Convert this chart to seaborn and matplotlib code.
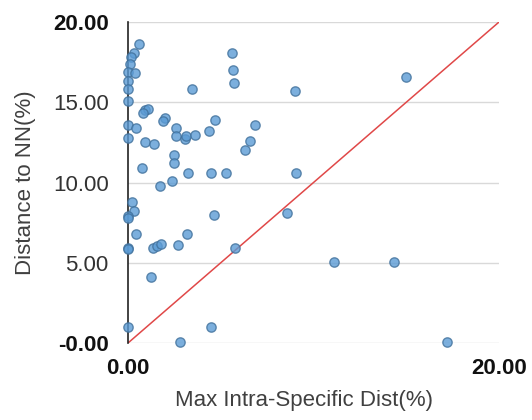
import numpy as np
import pandas as pd
import matplotlib
import matplotlib.pyplot as plt
import seaborn as sns

matplotlib.use('Agg')

# values
max_intra = [0.6, 0.3, 0.15, 0.1, 0.0, 0.4, 0.0, 0.0, 0.0, 3.45,
             5.6, 5.65, 5.7, 0.9, 1.1, 0.8, 2.0, 1.9, 0.0, 0.45,
             0.0, 0.9, 1.4, 2.6, 2.6, 3.05, 3.15, 3.6, 2.5, 2.5,
             0.75, 3.25, 2.35, 1.7, 4.7, 4.35, 6.85, 6.6, 6.3, 4.45,
             5.3, 15.0, 9.0, 9.05, 8.55, 11.1, 14.35, 17.2, 0.2, 0.3,
             0.0, 0.0, 0.45, 0.0, 0.0, 1.35, 1.55, 1.8, 2.7, 3.2,
             4.65, 5.75, 1.25, 0.0, 4.5, 2.8]
dist_nn = [18.6, 18.1, 17.8, 17.4, 16.9, 16.8, 16.3, 15.8, 15.1, 15.8,
           18.05, 17.0, 16.2, 14.5, 14.6, 14.3, 14.0, 13.85, 13.6, 13.4,
           12.75, 12.5, 12.4, 13.4, 12.9, 12.7, 12.9, 12.95, 11.7, 11.2,
           10.9, 10.6, 10.1, 9.8, 13.9, 13.2, 13.6, 12.6, 12.0, 10.6,
           10.6, 16.6, 15.7, 10.6, 8.1, 5.03, 5.03, 0.04, 8.8, 8.2,
           7.9, 7.8, 6.8, 5.9, 5.85, 5.95, 6.05, 6.2, 6.1, 6.8,
           8.0, 5.95, 4.1, 1.0, 1.0, 0.04]
diag = [0, 20]
x_ticks = [0, 20]
x_ticklabels = ['0.00', '20.00']
y_ticks = [0, 5, 10, 15, 20]
y_ticklabels = ['-0.00', '5.00', '10.00', '15.00', '20.00']

df = pd.DataFrame({'max_intra': max_intra, 'dist_nn': dist_nn})

sns.set_style('white')
plt.rcParams['font.family'] = ['Liberation Sans', 'DejaVu Sans']

fig = plt.figure(figsize=(5.32, 4.2), dpi=100)
ax = fig.add_axes([0.2406, 0.1833, 0.6974, 0.7643])

ax.grid(True, axis='y', color='#d9d9d9', linewidth=1)
ax.set_axisbelow(True)

sns.lineplot(x=diag, y=diag, ax=ax, color='#e04848', linewidth=1.1, zorder=2)
sns.scatterplot(data=df, x='max_intra', y='dist_nn', ax=ax, s=45,
                color='#5b9bd5', alpha=0.8, edgecolor='#41719c',
                linewidth=1, zorder=3, clip_on=False)

ax.set_xlim(0, 20)
ax.set_ylim(0, 20)
ax.set_xticks(x_ticks)
ax.set_xticklabels(x_ticklabels)
ax.set_yticks(y_ticks)
ax.set_yticklabels(y_ticklabels)
ax.tick_params(axis='both', length=0, labelsize=16, colors='#333333')
ax.tick_params(axis='y', pad=14)
ax.tick_params(axis='x', pad=11)
# only the end labels are bold in the original
for lab in ax.get_xticklabels():
    lab.set_fontweight('bold')
    lab.set_color('#111111')
ylabs = ax.get_yticklabels()
for lab in (ylabs[0], ylabs[-1]):
    lab.set_fontweight('bold')
    lab.set_color('#111111')

for side in ['top', 'right', 'bottom']:
    ax.spines[side].set_visible(False)
ax.spines['left'].set_color('#222222')
ax.spines['left'].set_linewidth(1.2)

ax.set_xlabel('Max Intra-Specific Dist(%)', fontsize=16, color='#404040')
ax.set_ylabel('Distance to NN(%)', fontsize=16, color='#404040', labelpad=12)
ax.xaxis.set_label_coords(0.475, -0.145)

plt.savefig('out.png', dpi=100)
plt.close()
